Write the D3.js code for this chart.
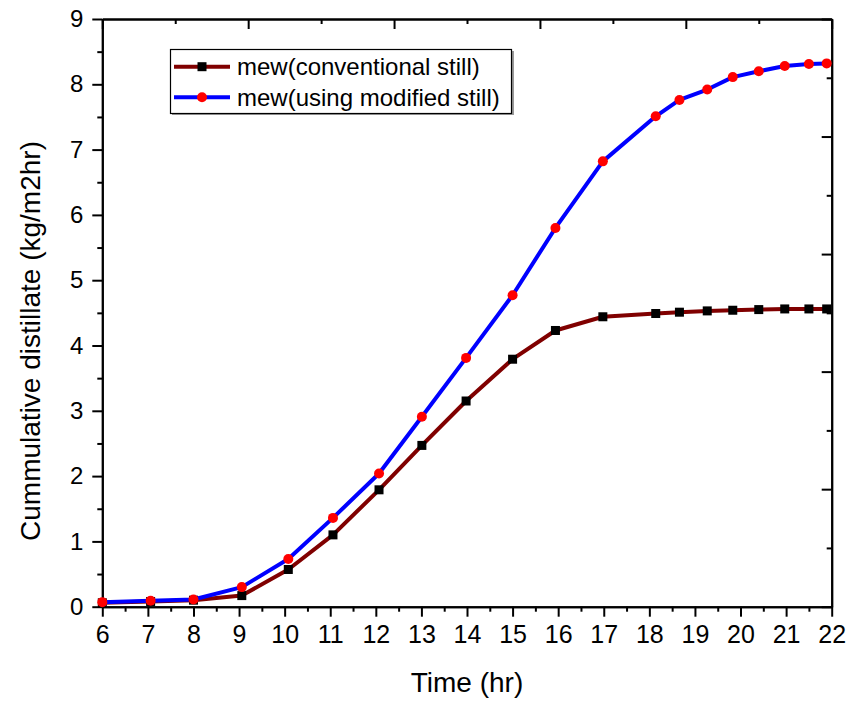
<!DOCTYPE html>
<html>
<head>
<meta charset="utf-8">
<script src="https://cdn.jsdelivr.net/npm/d3@7"></script>
<style>
  body { margin: 0; background: #fff; }
  svg { font-family: "Liberation Sans", Arial, sans-serif; }
</style>
</head>
<body>
<div id="chart"></div>
<script>
// Time (hr) of each reading
const timeConv = [6, 7.06, 8, 9.06, 10.08, 11.06, 12.07, 13.01, 13.98, 15, 15.94, 16.98, 18.14, 18.66, 19.27, 19.83, 20.4, 20.97, 21.5, 21.89];
const timeMod = [6, 7.06, 8, 9.06, 10.08, 11.06, 12.07, 13.01, 13.98, 15, 15.94, 16.98, 18.14, 18.66, 19.27, 19.83, 20.4, 20.97, 21.5, 21.89];

// cumulative distillate (kg/m2hr)
const mewConv = [0.06, 0.08, 0.1, 0.17, 0.57, 1.1, 1.79, 2.47, 3.15, 3.79, 4.23, 4.44, 4.49, 4.51, 4.53, 4.54, 4.55, 4.56, 4.56, 4.56];
const mewMod = [0.07, 0.09, 0.11, 0.3, 0.73, 1.36, 2.04, 2.91, 3.81, 4.77, 5.8, 6.82, 7.51, 7.76, 7.92, 8.11, 8.2, 8.28, 8.31, 8.32];

const xTicks = d3.range(6, 23, 1);
const yTicks = d3.range(0, 10, 1);
const seriesNames = ["mew(conventional still)", "mew(using modified still)"];

(function () {
  const W = 850, H = 702;
  const x0 = 102.3, x1 = 831.7, y0 = 606.7, y1 = 19;

  const svg = d3.select("#chart").append("svg")
    .attr("width", W).attr("height", H);

  const x = d3.scaleLinear().domain([6, 22]).range([x0, x1]);
  const y = d3.scaleLinear().domain([0, 9]).range([y0, y1]);

  // minor ticks at the half steps
  const xMinor = d3.range(6.5, 22, 1);
  const yMinor = d3.range(0.5, 9, 1);

  // bottom axis
  const bottom = svg.append("g").attr("transform", `translate(0,${y0})`);
  bottom.call(d3.axisBottom(x).tickValues(xTicks).tickFormat(d3.format("d")).tickSize(10).tickSizeOuter(0));
  bottom.append("g").call(d3.axisBottom(x).tickValues(xMinor).tickFormat("").tickSize(5).tickSizeOuter(0));

  // left axis
  const left = svg.append("g").attr("transform", `translate(${x0},0)`);
  left.call(d3.axisLeft(y).tickValues(yTicks).tickFormat(d3.format("d")).tickSize(10).tickSizeOuter(0));
  left.append("g").call(d3.axisLeft(y).tickValues(yMinor).tickFormat("").tickSize(5).tickSizeOuter(0));

  // top and right axes use their own 5-step division, ticks inward
  const xTop = d3.scaleLinear().domain([0, 5]).range([x0, x1]);
  const yRight = d3.scaleLinear().domain([0, 5]).range([y0, y1]);
  const top = svg.append("g").attr("transform", `translate(0,${y1})`);
  top.call(d3.axisTop(xTop).tickValues(d3.range(0, 6)).tickFormat("").tickSize(-10).tickSizeOuter(0));
  top.append("g").call(d3.axisTop(xTop).tickValues(d3.range(0.5, 5, 1)).tickFormat("").tickSize(-5).tickSizeOuter(0));
  const right = svg.append("g").attr("transform", `translate(${x1},0)`);
  right.call(d3.axisRight(yRight).tickValues(d3.range(0, 6)).tickFormat("").tickSize(-10).tickSizeOuter(0));
  right.append("g").call(d3.axisRight(yRight).tickValues(d3.range(0.5, 5, 1)).tickFormat("").tickSize(-5).tickSizeOuter(0));

  svg.selectAll(".domain").attr("stroke", "#000").attr("stroke-width", 2);
  svg.selectAll(".tick line").attr("stroke", "#000").attr("stroke-width", 2);
  bottom.selectAll(".tick text").attr("font-size", "25px").attr("fill", "#000").attr("dy", "0.92em");
  left.selectAll(".tick text").attr("font-size", "24px").attr("fill", "#000").attr("x", -19);

  // axis titles
  svg.append("text")
    .attr("x", (x0 + x1) / 2).attr("y", 692)
    .attr("text-anchor", "middle")
    .attr("font-size", "28px")
    .text("Time (hr)");

  svg.append("text")
    .attr("transform", "translate(40,341) rotate(-90)")
    .attr("text-anchor", "middle")
    .attr("font-size", "28px")
    .text("Cummulative distillate (kg/m2hr)");

  const line = d3.line().x(d => x(d[0])).y(d => y(d[1]));
  const conv = d3.zip(timeConv, mewConv);
  const mod = d3.zip(timeMod, mewMod);

  // conventional still
  svg.append("path").datum(conv)
    .attr("d", line).attr("fill", "none")
    .attr("stroke", "#800000").attr("stroke-width", 4).attr("stroke-linejoin", "round");
  svg.selectAll(".sq").data(conv).enter().append("rect")
    .attr("class", "sq")
    .attr("x", d => x(d[0]) - 4.5).attr("y", d => y(d[1]) - 4.5)
    .attr("width", 9).attr("height", 9).attr("fill", "#000");

  // modified still
  svg.append("path").datum(mod)
    .attr("d", line).attr("fill", "none")
    .attr("stroke", "#0000ff").attr("stroke-width", 4).attr("stroke-linejoin", "round");
  svg.selectAll(".dot").data(mod).enter().append("circle")
    .attr("class", "dot")
    .attr("cx", d => x(d[0])).attr("cy", d => y(d[1]))
    .attr("r", 5).attr("fill", "#ff0000");

  // legend
  const lg = svg.append("g");
  lg.append("rect").attr("x", 172).attr("y", 51).attr("width", 342).attr("height", 64).attr("fill", "#999");
  lg.append("rect").attr("x", 170.5).attr("y", 49.5).attr("width", 341).attr("height", 64)
    .attr("fill", "#fff").attr("stroke", "#000").attr("stroke-width", 1.2);
  const rows = [66.7, 97.3];
  seriesNames.forEach((name, i) => {
    const ry = rows[i];
    lg.append("line").attr("x1", 174).attr("x2", 230).attr("y1", ry).attr("y2", ry)
      .attr("stroke", i === 0 ? "#800000" : "#0000ff").attr("stroke-width", 4);
    if (i === 0) {
      lg.append("rect").attr("x", 197.5).attr("y", ry - 4.5).attr("width", 9).attr("height", 9).attr("fill", "#000");
    } else {
      lg.append("circle").attr("cx", 202).attr("cy", ry).attr("r", 5).attr("fill", "#ff0000");
    }
    lg.append("text").attr("x", 237).attr("y", ry).attr("dy", "0.35em")
      .attr("font-size", "24px").text(name);
  });
})();
</script>
</body>
</html>
